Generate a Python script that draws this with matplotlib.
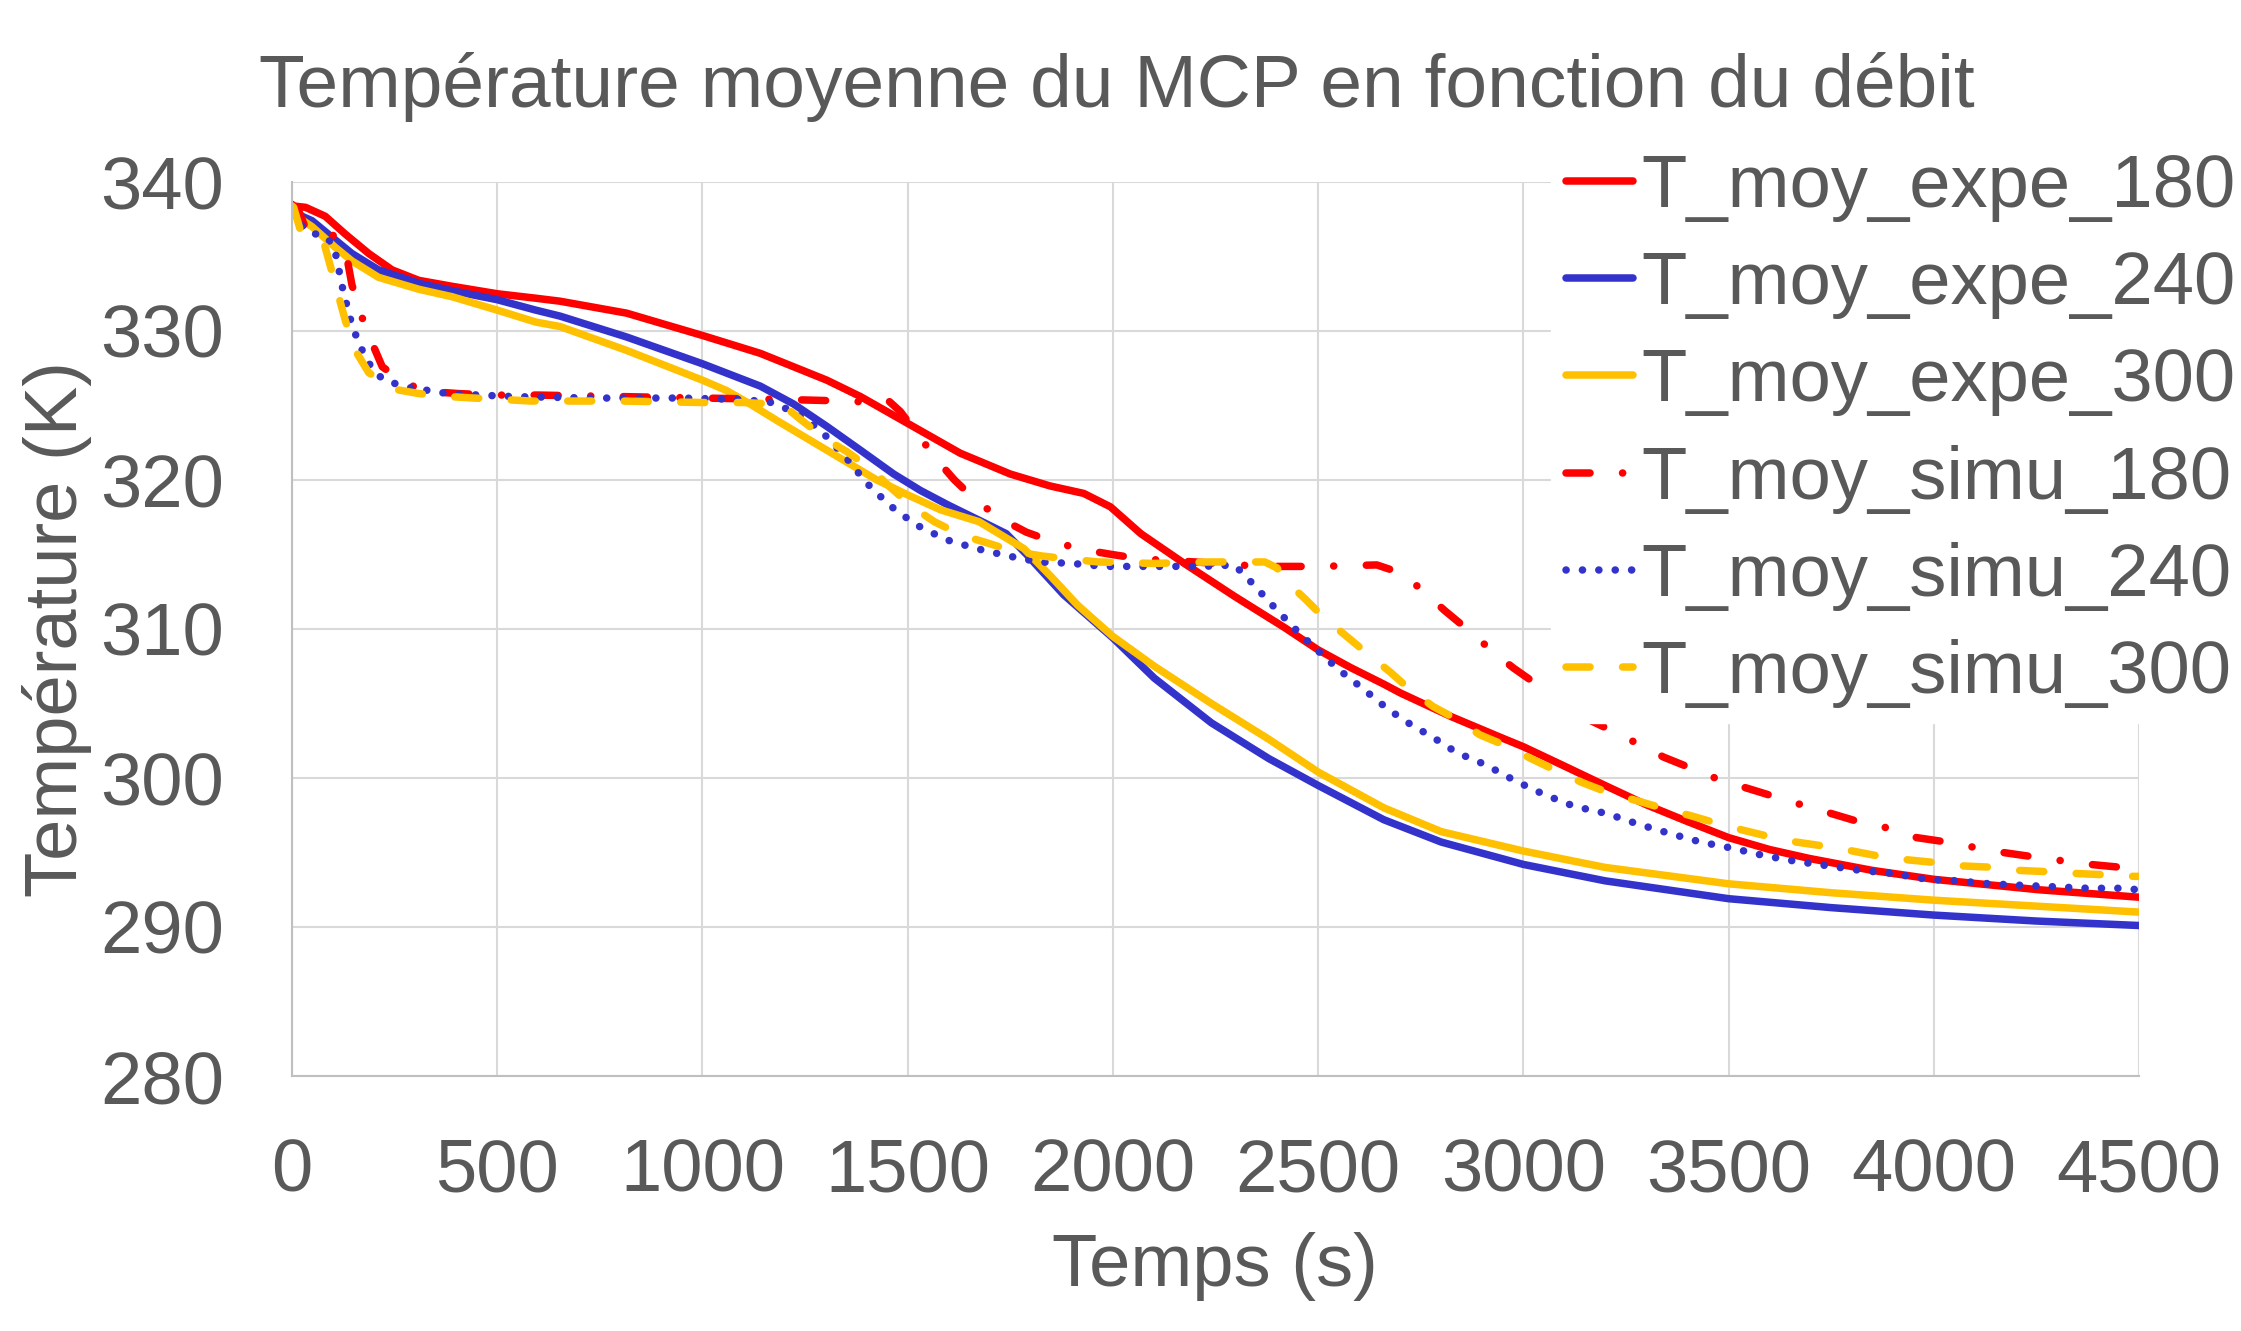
import numpy as np
import matplotlib
matplotlib.use('Agg')
import matplotlib.pyplot as plt

# valeurs (temps en s, temperature en K)
t_expe_180 = [0, 33, 81, 130, 187, 244, 309, 390, 500, 594, 653, 815, 1000, 1141, 1303, 1385, 1500,
              1628, 1750, 1847, 1929, 1994, 2068, 2174, 2296, 2418, 2500, 2580, 2660, 2701, 2826, 2947,
              3000, 3100, 3199, 3300, 3398, 3500, 3600, 3697, 3850, 4000, 4256, 4500]
T_expe_180 = [338.4, 338.3, 337.7, 336.5, 335.2, 334.1, 333.4, 333.0, 332.5, 332.2, 332.0, 331.2, 329.7,
              328.5, 326.7, 325.6, 323.8, 321.8, 320.4, 319.6, 319.1, 318.2, 316.4, 314.4, 312.2, 310.1,
              308.6, 307.4, 306.3, 305.7, 304.1, 302.7, 302.1, 300.8, 299.5, 298.2, 297.1, 296.0, 295.2,
              294.6, 293.8, 293.2, 292.5, 292.0]

t_expe_240 = [0, 49, 106, 146, 211, 309, 390, 500, 594, 653, 815, 1000, 1141, 1222, 1303, 1385, 1466,
              1531, 1600, 1674, 1740, 1790, 1880, 2000, 2101, 2240, 2380, 2500, 2660, 2800, 3000, 3199,
              3500, 3750, 4000, 4250, 4500]
T_expe_240 = [338.0, 337.4, 336.1, 335.2, 334.1, 333.2, 332.7, 332.1, 331.4, 331.0, 329.6, 327.8, 326.3,
              325.1, 323.6, 322.0, 320.4, 319.3, 318.3, 317.3, 316.4, 315.0, 312.3, 309.4, 306.7, 303.7,
              301.3, 299.5, 297.2, 295.7, 294.2, 293.1, 291.9, 291.3, 290.8, 290.4, 290.1]

t_expe_300 = [0, 49, 106, 146, 211, 309, 390, 500, 594, 653, 815, 1000, 1059, 1116, 1181, 1303, 1425,
              1500, 1580, 1674, 1783, 1850, 1914, 2000, 2101, 2240, 2380, 2500, 2660, 2800, 3000, 3199,
              3500, 3750, 4000, 4250, 4500]
T_expe_300 = [337.9, 337.0, 335.6, 334.7, 333.6, 332.8, 332.3, 331.4, 330.6, 330.3, 328.7, 326.7, 326.0,
              325.1, 324.0, 322.0, 320.0, 319.0, 318.0, 317.2, 315.4, 313.5, 311.6, 309.5, 307.5, 305.0,
              302.6, 300.4, 298.0, 296.4, 295.1, 294.0, 292.9, 292.3, 291.8, 291.4, 291.0]

t_simu_180 = [0, 16, 33, 102, 134, 146, 168, 195, 220, 280, 354, 406, 492, 600, 800, 1000, 1206, 1350,
              1425, 1450, 1482, 1576, 1614, 1671, 1734, 1789, 1860, 1933, 1998, 2069, 2200, 2361, 2502,
              2643, 2708, 2765, 2810, 2867, 2925, 2975, 3037, 3130, 3221, 3286, 3342, 3414, 3485, 3547,
              3618, 3690, 3752, 3825, 3896, 3958, 4032, 4107, 4169, 4245, 4325, 4381, 4458, 4500]
T_simu_180 = [338.5, 338.1, 336.9, 336.4, 334.9, 333.1, 331.1, 329.2, 327.6, 326.4, 325.9, 325.8, 325.7,
              325.7, 325.6, 325.5, 325.4, 325.3, 325.2, 325.4, 324.6, 321.2, 320.0, 318.5, 317.3, 316.5,
              315.8, 315.3, 315.0, 314.7, 314.5, 314.2, 314.2, 314.3, 313.7, 312.3, 311.2, 309.9, 308.5,
              307.4, 306.2, 304.3, 303.1, 302.2, 301.4, 300.6, 299.8, 299.3, 298.7, 298.1, 297.6, 297.0,
              296.6, 296.0, 295.7, 295.3, 295.0, 294.7, 294.4, 294.2, 294.0, 293.9]

t_simu_240 = [0, 39, 80, 102, 110, 118, 126, 137, 146, 160, 176, 197, 224, 260, 301, 337, 378, 458, 537,
              733, 950, 1100, 1169, 1220, 1267, 1299, 1350, 1400, 1456, 1520, 1593, 1667, 1745, 1821,
              1901, 1979, 2100, 2219, 2296, 2325, 2352, 2378, 2406, 2433, 2489, 2549, 2609, 2671, 2736,
              2770, 2838, 2907, 2981, 3050, 3124, 3205, 3280, 3354, 3432, 3507, 3585, 3665, 3744, 3821,
              3898, 3983, 4057, 4136, 4213, 4294, 4374, 4455, 4500]
T_simu_240 = [337.9, 336.6, 336.4, 335.7, 334.7, 333.6, 332.5, 331.4, 330.4, 329.4, 328.4, 327.4, 326.7,
              326.4, 326.1, 326.0, 325.8, 325.7, 325.6, 325.5, 325.5, 325.4, 325.2, 324.6, 323.8, 323.0,
              321.5, 319.8, 318.3, 317.0, 316.0, 315.4, 314.9, 314.5, 314.4, 314.2, 314.2, 314.2, 314.3,
              313.5, 312.7, 311.9, 311.1, 310.3, 308.8, 307.3, 306.0, 304.6, 303.4, 302.9, 301.7, 300.9,
              299.8, 298.9, 298.1, 297.6, 296.9, 296.3, 295.7, 295.3, 294.8, 294.4, 294.1, 293.8, 293.6,
              293.2, 293.1, 292.9, 292.8, 292.7, 292.6, 292.6, 292.5]

t_simu_300 = [0, 4, 20, 50, 77, 94, 114, 130, 154, 187, 248, 309, 382, 443, 516, 581, 800, 1000, 1100,
              1170, 1193, 1242, 1303, 1352, 1413, 1454, 1511, 1565, 1631, 1691, 1761, 1827, 1892, 1963,
              2099, 2235, 2304, 2370, 2400, 2422, 2469, 2520, 2561, 2622, 2676, 2725, 2780, 2840, 2894,
              2963, 3019, 3087, 3143, 3218, 3274, 3348, 3404, 3479, 3535, 3609, 3665, 3740, 3802, 3877,
              3939, 4014, 4070, 4150, 4206, 4287, 4343, 4418, 4486, 4500]
T_simu_300 = [338.4, 338.3, 336.8, 336.4, 336.0, 334.3, 332.3, 330.7, 328.7, 327.2, 326.1, 325.8, 325.6,
              325.5, 325.4, 325.3, 325.3, 325.2, 325.2, 325.1, 325.1, 324.0, 322.7, 321.9, 320.7, 319.6,
              318.2, 317.2, 316.3, 315.8, 315.2, 314.9, 314.7, 314.5, 314.4, 314.5, 314.5, 314.5, 314.1,
              313.2, 312.0, 310.6, 309.7, 308.3, 307.1, 305.9, 304.8, 303.9, 302.9, 302.1, 301.3, 300.4,
              299.7, 298.9, 298.5, 297.9, 297.5, 296.9, 296.5, 296.0, 295.7, 295.4, 295.1, 294.7, 294.5,
              294.3, 294.1, 294.0, 293.8, 293.7, 293.6, 293.5, 293.4, 293.4]

labels = ['T_moy_expe_180', 'T_moy_expe_240', 'T_moy_expe_300',
          'T_moy_simu_180', 'T_moy_simu_240', 'T_moy_simu_300']
xticks = np.arange(0, 4501, 500)
yticks = np.arange(280, 341, 10)

if __name__ == '__main__':
    plt.rcParams['font.family'] = ['Liberation Sans', 'DejaVu Sans']
    plt.rcParams['lines.scale_dashes'] = False
    gris = '#595959'
    fs = 53.5

    W, H = 2241, 1331
    fig = plt.figure(figsize=(W / 100, H / 100), dpi=100)
    x0, x1, y0, y1 = 292, 2139, 182, 1076
    ax = fig.add_axes([x0 / W, 1 - y1 / H, (x1 - x0) / W, (y1 - y0) / H])

    series = [
        (t_expe_180, T_expe_180, '#FF0000', '-'),
        (t_expe_240, T_expe_240, '#3333CC', '-'),
        (t_expe_300, T_expe_300, '#FFC000', '-'),
        (t_simu_180, T_simu_180, '#FF0000', (0, (17.3, 23.4, 0.1, 23.4))),
        (t_simu_240, T_simu_240, '#3333CC', (0, (0.1, 11.7))),
        (t_simu_300, T_simu_300, '#FFC000', (0, (17.3, 23.4))),
    ]
    for (t, T, c, ls), lab in zip(series, labels):
        ax.plot(t, T, color=c, linestyle=ls, linewidth=5.4, label=lab,
                solid_capstyle='round', dash_capstyle='round',
                solid_joinstyle='round', dash_joinstyle='round')

    ax.set_xlim(0, 4500)
    ax.set_ylim(280, 340)
    ax.set_xticks(xticks)
    ax.set_yticks(yticks)
    ax.grid(True, color='#D9D9D9', linewidth=1.5)
    ax.set_axisbelow(True)
    for s in ['top', 'right']:
        ax.spines[s].set_visible(False)
    for s in ['left', 'bottom']:
        ax.spines[s].set_color('#BFBFBF')
        ax.spines[s].set_linewidth(1.5)
    ax.tick_params(axis='both', length=0, labelsize=fs, labelcolor=gris)
    ax.tick_params(axis='y', pad=49)
    ax.tick_params(axis='x', pad=44)

    fig.text(259 / W, 1 - 107 / H, 'Température moyenne du MCP en fonction du débit',
             fontsize=54, color=gris, ha='left', va='baseline')
    fig.text(1215 / W, 1 - 1286 / H, 'Temps (s)', fontsize=fs, color=gris,
             ha='center', va='baseline')
    fig.text(57 / W, 1 - 629 / H, 'Température (K)', fontsize=fs, color=gris,
             rotation=90, ha='center', va='center')

    handles, labs = ax.get_legend_handles_labels()
    leg = fig.legend(handles, labs, loc='upper left', bbox_to_anchor=(1551 / W, 1 - 138 / H),
                     fontsize=fs, frameon=True, fancybox=False, framealpha=1,
                     facecolor='white', edgecolor='white', borderaxespad=0, borderpad=0.2,
                     handlelength=0.9, handletextpad=0.12, labelspacing=0.38)
    for txt in leg.get_texts():
        txt.set_color(gris)

    fig.savefig('out.png', dpi=100, facecolor='white')
